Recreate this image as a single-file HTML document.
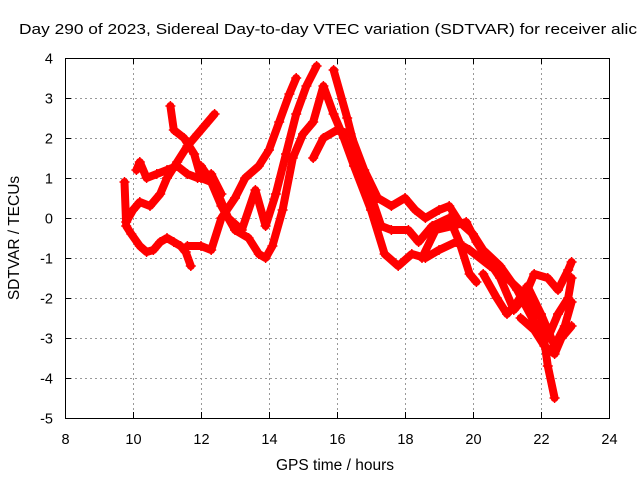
<!DOCTYPE html>
<html><head><meta charset="utf-8"><style>
body{margin:0;background:#fff;}
svg{display:block;font-family:"Liberation Sans",sans-serif;}
</style></head><body>
<svg id="chart" width="640" height="480" viewBox="0 0 640 480">
<text x="19" y="34" font-size="15" textLength="618" lengthAdjust="spacingAndGlyphs">Day 290 of 2023, Sidereal Day-to-day VTEC variation (SDTVAR) for receiver alic</text>
<g id="grid"></g>
<g id="ticks"></g>
<g id="series"></g>
<rect x="65.5" y="58.5" width="544" height="360" fill="none" stroke="#000" stroke-width="1"/>
<text x="335" y="470" font-size="15.5" text-anchor="middle">GPS time / hours</text>
<text transform="translate(19,238) rotate(-90)" font-size="15.5" text-anchor="middle">SDTVAR / TECUs</text>
</svg>
<script>
const xTicks=[8,10,12,14,16,18,20,22,24];
const yTicks=[4,3,2,1,0,-1,-2,-3,-4,-5];
const trackA_t=[9.75,9.8,9.95,10.2,10.4,10.6,10.8,11.0,11.2,11.4,11.55,11.7];
const trackA_v=[0.9,-0.2,-0.4,-0.7,-0.85,-0.8,-0.6,-0.5,-0.6,-0.7,-0.85,-1.2];
const trackB_t=[9.8,10.0,10.2,10.5,10.8,11.0,11.3,11.6,11.9,12.1,12.4];
const trackB_v=[-0.1,0.2,0.4,0.3,0.6,1.0,1.4,1.8,2.1,2.3,2.6];
const trackC_t=[10.1,10.2,10.4,10.7,11.0,11.3,11.6,11.9,12.1,12.3,12.6];
const trackC_v=[1.2,1.4,1.0,1.1,1.2,1.3,1.1,1.0,1.0,1.1,0.6];
const trackD_t=[11.1,11.2,11.5,11.8,12.0,12.3,12.6,13.0,13.4,13.7,13.9,14.1,14.4,14.7,15.0,15.3,15.6,15.9,16.2,16.5,17.0,17.4,17.8,18.2,18.6,19.0,19.5,19.9,20.5,21.0,21.5,22.0,22.2,22.4];
const trackD_v=[2.8,2.2,2.0,1.6,1.0,0.9,0.3,-0.3,-0.5,-0.9,-1.0,-0.7,0.2,1.5,2.1,2.4,3.3,2.6,2.0,1.3,0.2,-0.9,-1.2,-0.9,-1.0,-0.8,-0.6,-0.8,-1.2,-1.5,-1.9,-2.5,-3.7,-4.5];
const trackE_t=[11.6,12.0,12.3,12.6,13.0,13.3,13.7,14.0,14.3,14.6,14.8];
const trackE_v=[-0.7,-0.7,-0.8,0.0,0.5,1.0,1.3,1.7,2.4,3.1,3.5];
const trackF_t=[12.0,12.4,12.8,13.2,13.6,13.9,14.2,14.5,14.8,15.1,15.4];
const trackF_v=[1.3,0.8,0.0,-0.3,0.7,-0.2,0.6,1.6,2.6,3.3,3.8];
const trackG_t=[15.3,15.6,16.0,16.4,16.8,17.2,17.6,18.0,18.3,18.6,19.0,19.3,19.6,20.0,20.3,20.8,21.3,21.8,22.2,22.5,22.8,22.9];
const trackG_v=[1.5,2.0,2.2,2.1,1.2,0.5,0.3,0.5,0.2,0.0,0.2,0.3,-0.1,-0.4,-0.8,-1.2,-1.8,-2.6,-3.0,-2.4,-2.0,-1.5];
const trackH_t=[15.9,16.3,16.6,16.9,17.3,17.6,18.1,18.4,18.8,19.3,19.6,19.9,20.1];
const trackH_v=[3.7,2.5,1.5,0.8,-0.2,-0.3,-0.3,-0.6,-0.2,0.0,-0.6,-1.4,-1.6];
const trackI_t=[18.5,18.9,19.4,19.8,20.1,20.4,20.8,21.2,21.5,21.8,22.2,22.5,22.8,22.9];
const trackI_v=[-1.0,-0.3,-0.2,-0.1,-0.6,-1.0,-1.5,-2.3,-2.0,-1.4,-1.5,-1.8,-1.3,-1.1];
const trackJ_t=[20.3,20.7,21.0,21.3,21.6,22.0,22.4,22.7,22.9];
const trackJ_v=[-1.4,-2.0,-2.4,-2.1,-1.7,-2.4,-3.2,-2.7,-2.1];
const trackK_t=[21.4,21.8,22.1,22.4,22.6,22.9];
const trackK_v=[-2.5,-2.8,-3.2,-3.4,-3.0,-2.7];
const seriesT=[trackA_t,trackB_t,trackC_t,trackD_t,trackE_t,trackF_t,trackG_t,trackH_t,trackI_t,trackJ_t,trackK_t];
const seriesV=[trackA_v,trackB_v,trackC_v,trackD_v,trackE_v,trackF_v,trackG_v,trackH_v,trackI_v,trackJ_v,trackK_v];

const NS="http://www.w3.org/2000/svg";
const X0=65,X1=609,Y0=58,Y1=418;
function sx(t){return X0+(t-8)/(24-8)*(X1-X0);}
function sy(v){return Y0+(4-v)/(4-(-5))*(Y1-Y0);}
const grid=document.getElementById('grid'),ticks=document.getElementById('ticks'),series=document.getElementById('series');
function mk(tag,attrs,parent){const e=document.createElementNS(NS,tag);for(const k in attrs)e.setAttribute(k,attrs[k]);parent.appendChild(e);return e;}
xTicks.forEach(t=>{
  const x=Math.round(sx(t))+0.5;
  if(t>8&&t<24){const g=mk('line',{x1:x,x2:x,y1:Y0,y2:Y1,stroke:'#999','stroke-dasharray':'2,3'},grid);
  
  }
  mk('line',{x1:x,x2:x,y1:Y1,y2:Y1-6,stroke:'#000'},ticks);
  mk('line',{x1:x,x2:x,y1:Y0,y2:Y0+6,stroke:'#000'},ticks);
  const l=mk('text',{x:x,y:444,'font-size':14.5,'text-anchor':'middle'},ticks);
  l.textContent=t;
  
  
});
yTicks.forEach(v=>{
  const y=Math.round(sy(v))+0.5;
  if(v<4&&v>-5){const g=mk('line',{x1:X0,x2:X1,y1:y,y2:y,stroke:'#999','stroke-dasharray':'2,3'},grid);
  
  }
  mk('line',{x1:X0,x2:X0+6,y1:y,y2:y,stroke:'#000'},ticks);
  mk('line',{x1:X1,x2:X1-6,y1:y,y2:y,stroke:'#000'},ticks);
  const l=mk('text',{x:53,y:y+5,'font-size':14.5,'text-anchor':'end'},ticks);
  l.textContent=v;
  
  
});
seriesT.forEach((ts,i)=>{
  const vs=seriesV[i];
  const pts=ts.map((t,j)=>sx(t).toFixed(1)+','+sy(vs[j]).toFixed(1)).join(' ');
  const g=mk('g',{},series);
  
  
  mk('polyline',{points:pts,fill:'none',stroke:'#f00','stroke-width':8,'stroke-linejoin':'round','stroke-linecap':'round'},g);
  ts.forEach((t,j)=>{
    const x=sx(t),y=sy(vs[j]);
    mk('path',{d:`M${x-5},${y}H${x+5}M${x},${y-5}V${y+5}`,stroke:'#f00','stroke-width':1.5},g);
  });
});
</script>
</body></html>
